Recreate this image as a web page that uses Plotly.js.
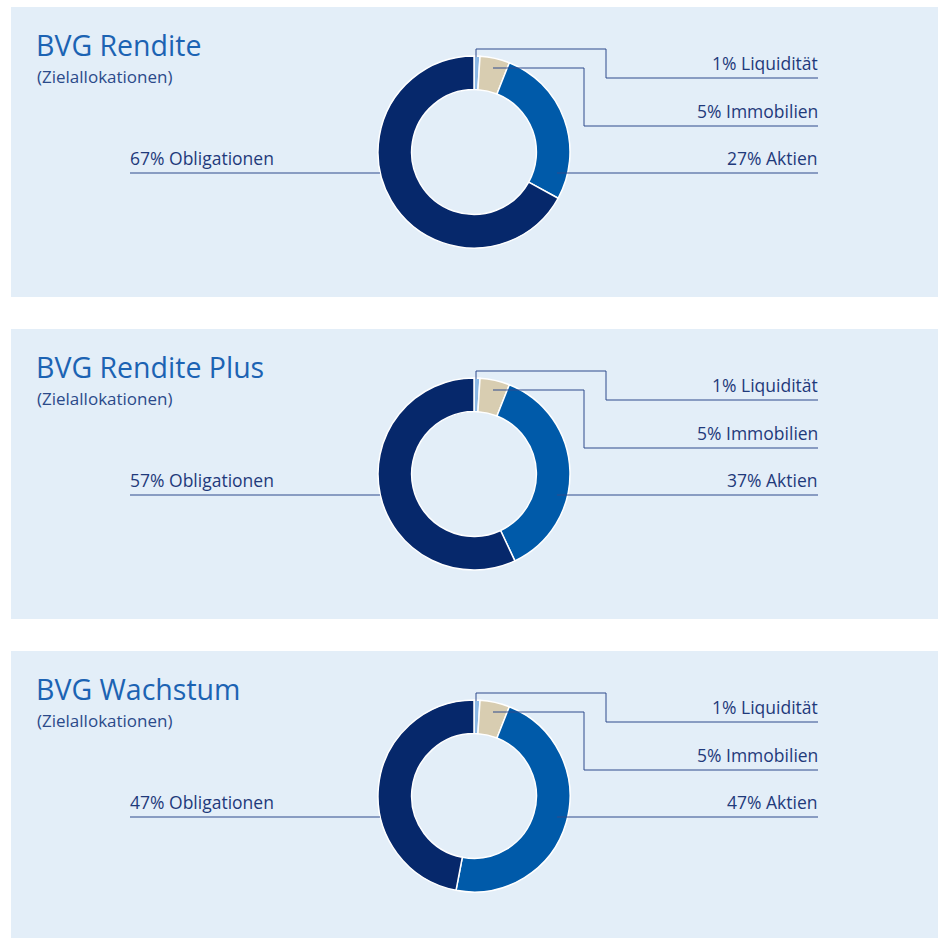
<!DOCTYPE html>
<html>
<head>
<meta charset="utf-8">
<script src="https://cdn.plot.ly/plotly-3.0.1.min.js"></script>
<style>
  html, body { margin: 0; padding: 0; background: #ffffff; }
  #chart { width: 941px; height: 938px; }
</style>
</head>
<body>
<div id="chart"></div>
<script>
// Zielallokationen der drei BVG-Strategien
const funds = ['BVG Rendite', 'BVG Rendite Plus', 'BVG Wachstum'];
const subtitle = '(Zielallokationen)';
const categories = ['Liquidität', 'Immobilien', 'Aktien', 'Obligationen'];
const liquiditaet = [1, 1, 1];
const immobilien = [5, 5, 5];
const aktien = [27, 37, 47];
const obligationen = [67, 57, 47];

const W = 941, H = 938;
const PANEL_STEP = 322;
const COLORS = ['#8cb8e4', '#d8cdb1', '#005aa9', '#06286b'];
const BG = '#e3eef8';
const LINE = '#2e4a8c';
const TEXT = '#1f3a7b';
const FONT = '"Open Sans", "Noto Sans", sans-serif';

const traces = [];
const shapes = [];
const annotations = [];

// dummy trace so the pixel axes exist
traces.push({x: [0], y: [0], type: 'scatter', mode: 'markers', marker: {opacity: 0}, hoverinfo: 'skip', showlegend: false});

funds.forEach((name, i) => {
  const dy = i * PANEL_STEP;
  const values = [liquiditaet[i], immobilien[i], aktien[i], obligationen[i]];

  // panel background
  shapes.push({type: 'rect', xref: 'x', yref: 'y', x0: 11, x1: 938, y0: 7 + dy, y1: 297 + dy,
    fillcolor: BG, line: {width: 0}, layer: 'below'});

  // donut: centre (474, 152+dy), radius 96
  const cx = 474, cy = 152 + dy, r = 96;
  traces.push({
    type: 'pie',
    values: values,
    labels: categories,
    hole: 0.65,
    sort: false,
    direction: 'clockwise',
    rotation: 0,
    textinfo: 'none',
    hoverinfo: 'label+value',
    showlegend: false,
    marker: {colors: COLORS, line: {color: '#ffffff', width: 1.5}},
    domain: {x: [(cx - r) / W, (cx + r) / W], y: [1 - (cy + r) / H, 1 - (cy - r) / H]}
  });

  // leader lines
  const paths = [
    [[476, 57], [476, 49], [606, 49], [606, 78], [818, 78]],
    [[493, 68], [584, 68], [584, 126], [818, 126]],
    [[557, 173], [818, 173]],
    [[130, 173], [380, 173]]
  ];
  paths.forEach(p => {
    const d = p.map((pt, k) => (k ? 'L' : 'M') + pt[0] + ',' + (pt[1] + dy)).join(' ');
    shapes.push({type: 'path', xref: 'x', yref: 'y', path: d, line: {color: LINE, width: 1}});
  });

  // labels
  const lab = (k) => values[k] + '% ' + categories[k];
  const labelPos = [
    {x: 820, y: 63, anchor: 'right'},
    {x: 820, y: 111, anchor: 'right'},
    {x: 820, y: 158, anchor: 'right'},
    {x: 128, y: 158, anchor: 'left'}
  ];
  labelPos.forEach((lp, k) => {
    annotations.push({xref: 'x', yref: 'y', x: lp.x, y: lp.y + dy, text: lab(k), showarrow: false,
      xanchor: lp.anchor, yanchor: 'middle', font: {family: FONT, size: 17.5, color: TEXT}});
  });

  // titles
  annotations.push({xref: 'x', yref: 'y', x: 34, y: 45 + dy, text: name, showarrow: false,
    xanchor: 'left', yanchor: 'middle', font: {family: FONT, size: 28.5, color: '#1c63b3'}});
  annotations.push({xref: 'x', yref: 'y', x: 35, y: 76 + dy, text: subtitle, showarrow: false,
    xanchor: 'left', yanchor: 'middle', font: {family: FONT, size: 17, color: '#2b4a8a'}});
});

const layout = {
  width: W, height: H,
  margin: {l: 0, r: 0, t: 0, b: 0},
  paper_bgcolor: '#ffffff',
  plot_bgcolor: 'rgba(0,0,0,0)',
  showlegend: false,
  xaxis: {range: [0, W], visible: false, fixedrange: true},
  yaxis: {range: [H, 0], visible: false, fixedrange: true},
  shapes: shapes,
  annotations: annotations
};

Plotly.newPlot('chart', traces, layout, {displayModeBar: false, staticPlot: true});
</script>
</body>
</html>
